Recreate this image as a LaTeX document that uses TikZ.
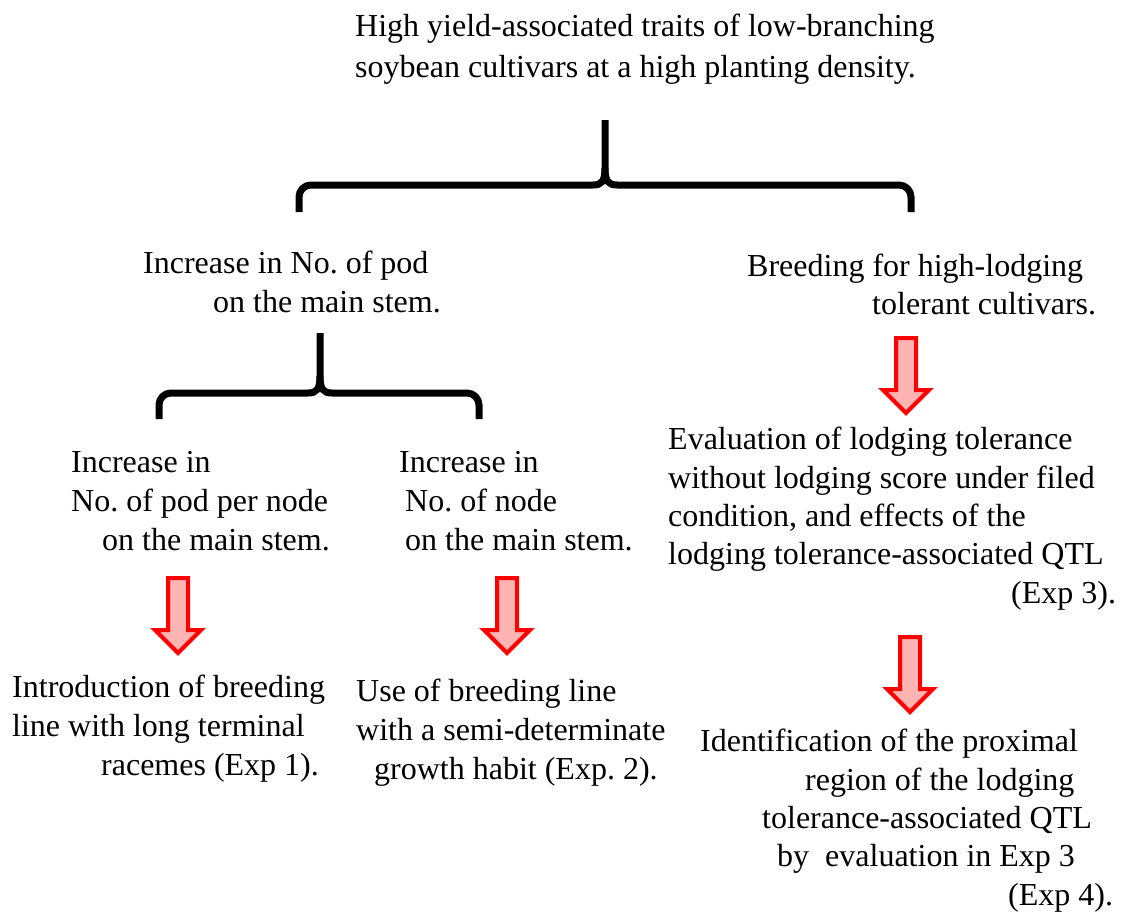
\documentclass[tikz,border=0pt]{standalone}
\usepackage{fontspec}
\setmainfont{Liberation Serif}
\usetikzlibrary{positioning}
\frenchspacing

\definecolor{arrowpink}{RGB}{255,180,180}

\tikzset{
  txt/.style={align=left, inner sep=0pt, anchor=base west,
    font=\fontsize{32}{39}\selectfont},
  brace/.style={line width=7pt},
  pics/downarrow/.style={code={
    \filldraw[draw=red, fill=arrowpink, line width=4pt, miter limit=3]
      (-10,2) -- (10,2) -- (10,54) -- (23,54) -- (0,77) -- (-23,54) -- (-10,54) -- cycle;
  }}
}

\begin{document}
\begin{tikzpicture}[x=1pt,y=-1pt]
 \useasboundingbox (0,0) rectangle (1124,913);

    % top (anchored at the baseline of the last line)
    \node[txt, font=\fontsize{32}{41}\selectfont] (goal) at (355,77)
      {High yield-associated traits of low-branching\\
       soybean cultivars at a high planting density.};

    % first brace
    \draw[brace] (299,212) [rounded corners=12pt] -- (299,185) -- (450,185) [sharp corners] -- (593,185)
      .. controls (602,185) and (605,181) .. (605,168) -- (605,120);
    \draw[brace] (911,212) [rounded corners=12pt] -- (911,185) -- (760,185) [sharp corners] -- (617,185)
      .. controls (608,185) and (605,181) .. (605,168);

    \node[txt] (podmain) at (143,312)
      {Increase in No. of pod\\
       \hspace*{70pt}on the main stem.};
    \node[txt, font=\fontsize{32}{38}\selectfont] (lodging) at (747,314)
      {Breeding for high-lodging\\
       \hspace*{125pt}tolerant cultivars.};

    % second brace
    \draw[brace] (159,419) [rounded corners=12pt] -- (159,393) -- (230,393) [sharp corners] -- (308,393)
      .. controls (317,393) and (320,389) .. (320,376) -- (320,333);
    \draw[brace] (479,419) [rounded corners=12pt] -- (479,393) -- (410,393) [sharp corners] -- (332,393)
      .. controls (323,393) and (320,389) .. (320,376);

    \node[txt] (podnode) at (71,550)
      {Increase in\\
       No. of pod per node\\
       \hspace*{31pt}on the main stem.};
    \node[txt] (nodenum) at (399,550)
      {Increase in\\
       \hspace*{6pt}No. of node\\
       \hspace*{6pt}on the main stem.};
    \node[txt, font=\fontsize{32}{38.3}\selectfont] (evaluation) at (668,603)
      {Evaluation of lodging tolerance\\
       without lodging score under filed\\
       condition, and effects of the\\
       lodging tolerance-associated QTL\\
       \hspace*{343pt}(Exp 3).};

    % block arrows
    \pic at (178,576) {downarrow};
    \pic at (507,576) {downarrow};
    \pic at (906,336) {downarrow};
    \pic at (910,635) {downarrow};

    \node[txt] (raceme) at (12,775)
      {Introduction of breeding\\
       line with long terminal\\
       \hspace*{89pt}racemes (Exp 1).};
    \node[txt] (semidet) at (356,779)
      {Use of breeding line\\
       with a semi-determinate\\
       \hspace*{18pt}growth habit (Exp. 2).};
    \node[txt, font=\fontsize{32}{38.3}\selectfont] (proximal) at (700,905)
      {Identification of the proximal\\
       \hspace*{105pt}region of the lodging\\
       \hspace*{62pt}tolerance-associated QTL\\
       \hspace*{77pt}by\ \ evaluation in Exp 3\\
       \hspace*{308pt}(Exp 4).};
\end{tikzpicture}
\end{document}
